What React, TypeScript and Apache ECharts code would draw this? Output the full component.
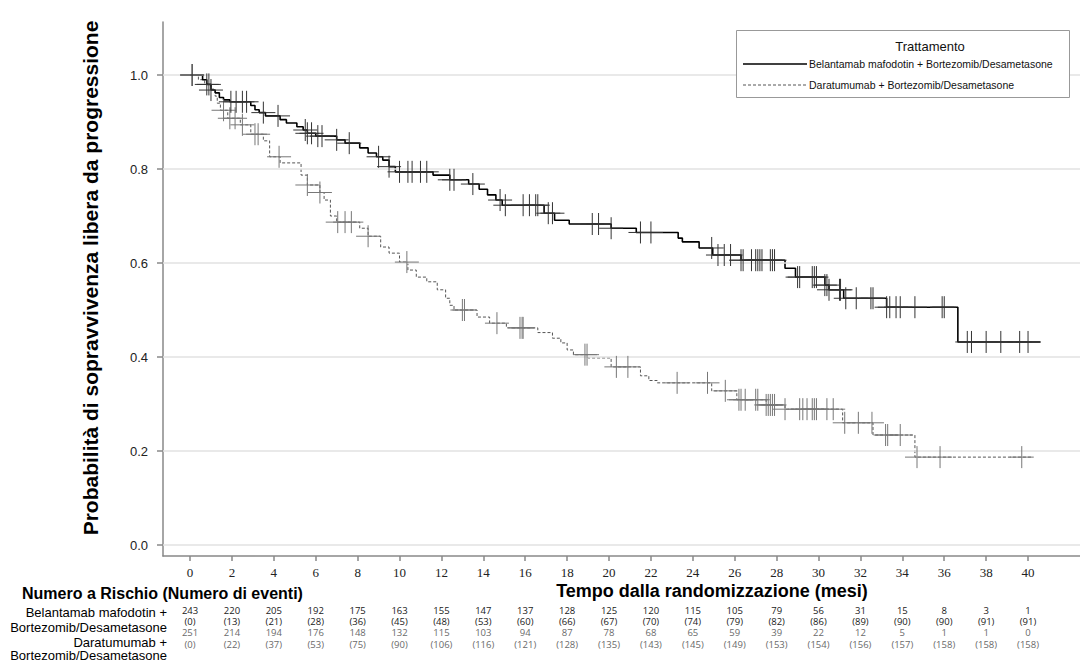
import React, { useEffect, useRef } from 'react';
import * as echarts from 'echarts';

// ---- Kaplan-Meier step data (months, survival probability) ----
const belaTimes = [0, 0.6, 0.8, 1.0, 1.2, 1.4, 1.6, 1.9, 2.9, 3.1, 3.3, 3.6, 4.3, 4.6, 5.1, 5.4, 5.6, 6.0, 7.0, 7.4, 8.1, 8.5, 8.9, 9.2, 9.5, 9.8, 11.6, 12.4, 13.3, 13.8, 14.2, 14.6, 14.9, 16.9, 17.4, 18.1, 20.1, 21.3, 23.3, 23.5, 24.3, 24.95, 26.3, 28.4, 28.9, 30.3, 30.5, 31.2, 33.25, 36.65, 40.6];
const belaSurv = [1.0, 0.99, 0.98, 0.968, 0.962, 0.952, 0.947, 0.943, 0.935, 0.926, 0.92, 0.913, 0.905, 0.898, 0.89, 0.883, 0.876, 0.87, 0.862, 0.855, 0.845, 0.834, 0.826, 0.819, 0.805, 0.794, 0.787, 0.777, 0.768, 0.757, 0.745, 0.734, 0.723, 0.706, 0.691, 0.683, 0.674, 0.665, 0.653, 0.645, 0.632, 0.617, 0.606, 0.589, 0.57, 0.553, 0.543, 0.525, 0.506, 0.432, 0.432];

const daraTimes = [0, 0.4, 0.7, 1.0, 1.2, 1.3, 1.45, 1.8, 2.4, 2.9, 3.5, 3.8, 4.3, 5.3, 5.6, 6.2, 6.4, 6.7, 7.0, 8.1, 8.5, 9.1, 9.5, 10.0, 10.4, 10.8, 11.3, 11.8, 12.2, 12.4, 12.6, 13.7, 14.3, 15.1, 16.6, 17.3, 17.7, 18.0, 18.3, 19.0, 20.1, 21.5, 21.9, 22.3, 24.9, 26.1, 27.5, 28.4, 31.15, 32.6, 34.6, 40.2];
const daraSurv = [1.0, 0.99, 0.98, 0.97, 0.955, 0.94, 0.925, 0.908, 0.894, 0.874, 0.86, 0.826, 0.813, 0.787, 0.766, 0.75, 0.734, 0.70, 0.687, 0.674, 0.657, 0.634, 0.621, 0.602, 0.585, 0.57, 0.56, 0.543, 0.525, 0.51, 0.50, 0.485, 0.472, 0.462, 0.452, 0.44, 0.43, 0.415, 0.405, 0.398, 0.379, 0.36, 0.35, 0.345, 0.328, 0.309, 0.298, 0.289, 0.26, 0.234, 0.187, 0.187];

// ---- censoring times (months) ----
const belaCensor = [0.1, 0.8, 0.9, 1.0, 1.95, 2.2, 2.5, 2.7, 3.5, 4.2, 5.5, 5.6, 5.8, 6.1, 6.3, 7.0, 7.6, 9.0, 9.5, 10.0, 10.4, 10.6, 11.0, 11.3, 12.4, 12.6, 13.5, 14.8, 15.05, 15.9, 16.2, 16.5, 16.6, 17.1, 17.3, 19.2, 19.5, 20.1, 21.5, 22.0, 24.9, 25.2, 25.5, 25.8, 26.3, 26.4, 26.8, 27.0, 27.1, 27.2, 27.3, 27.7, 27.8, 27.9, 29.0, 29.1, 29.7, 29.8, 29.9, 30.3, 30.4, 30.5, 31.0, 31.05, 31.3, 31.8, 32.5, 32.6, 33.25, 33.4, 33.7, 33.9, 34.6, 35.9, 36.0, 37.1, 37.3, 38.0, 38.7, 39.6, 40.0];
const daraCensor = [0.1, 1.6, 1.9, 2.15, 2.5, 3.1, 3.25, 4.25, 5.6, 6.2, 7.05, 7.4, 7.7, 8.5, 10.35, 13.0, 13.1, 14.65, 15.75, 15.85, 15.9, 18.85, 18.95, 20.35, 20.9, 23.25, 24.7, 25.55, 26.2, 26.3, 26.5, 27.0, 27.1, 27.5, 27.6, 27.7, 27.8, 27.9, 28.4, 29.1, 29.25, 29.45, 29.7, 29.8, 29.9, 30.4, 30.7, 31.25, 31.9, 32.55, 33.2, 33.3, 33.9, 34.7, 35.8, 39.7];

// ---- axis ticks ----
const xTicks = [0, 2, 4, 6, 8, 10, 12, 14, 16, 18, 20, 22, 24, 26, 28, 30, 32, 34, 36, 38, 40];
const yTicks = [0, 0.2, 0.4, 0.6, 0.8, 1.0];

// ---- number at risk table ----
const riskTimes = [0, 2, 4, 6, 8, 10, 12, 14, 16, 18, 20, 22, 24, 26, 28, 30, 32, 34, 36, 38, 40];
const belaAtRisk = [243, 220, 205, 192, 175, 163, 155, 147, 137, 128, 125, 120, 115, 105, 79, 56, 31, 15, 8, 3, 1];
const belaEvents = [0, 13, 21, 28, 36, 45, 48, 53, 60, 66, 67, 70, 74, 79, 82, 86, 89, 90, 90, 91, 91];
const daraAtRisk = [251, 214, 194, 176, 148, 132, 115, 103, 94, 87, 78, 68, 65, 59, 39, 22, 12, 5, 1, 1, 0];
const daraEvents = [0, 22, 37, 53, 75, 90, 106, 116, 121, 128, 135, 143, 145, 149, 153, 154, 156, 157, 158, 158, 158];

const seriesNames = ['Belantamab mafodotin + Bortezomib/Desametasone', 'Daratumumab + Bortezomib/Desametasone'];

const SANS = '"Liberation Sans", Arial, sans-serif';
const SERIF = '"Liberation Serif", "Times New Roman", serif';
const TABLE = '"Open Sans", "Liberation Sans", sans-serif';

const X_MIN = -1.29;
const X_MAX = 42.48;
const Y_MIN = -0.0234;
const Y_MAX = 1.1128;

function survAt(times: number[], surv: number[], t: number) {
  let s = surv[0];
  for (let i = 0; i < times.length; i++) {
    if (times[i] <= t) s = surv[i];
  }
  return s;
}

function censorRender(color: string) {
  return (params: any, api: any) => {
    const p = api.coord([api.value(0), api.value(1)]);
    return {
      type: 'group',
      children: [
        { type: 'line', shape: { x1: p[0] - 12, y1: p[1], x2: p[0] + 12, y2: p[1] }, style: { stroke: color, lineWidth: 1 } },
        { type: 'line', shape: { x1: p[0], y1: p[1] - 11, x2: p[0], y2: p[1] + 11 }, style: { stroke: color, lineWidth: 1 } },
      ],
    };
  };
}

export default function App() {
  const ref = useRef<HTMLDivElement>(null);

  useEffect(() => {
    if (!ref.current) return;
    const chart = echarts.init(ref.current, null, { renderer: 'svg' });

    const belaLine = belaTimes.map((t, i) => [t, belaSurv[i]]);
    const daraLine = daraTimes.map((t, i) => [t, daraSurv[i]]);
    const belaCens = belaCensor.map((t) => [t, survAt(belaTimes, belaSurv, t)]);
    const daraCens = daraCensor.map((t) => [t, survAt(daraTimes, daraSurv, t)]);

    const riskRows = [
      belaAtRisk.map((v) => String(v)),
      belaEvents.map((v) => '(' + v + ')'),
      daraAtRisk.map((v) => String(v)),
      daraEvents.map((v) => '(' + v + ')'),
    ];
    const riskColors = ['#1a1a1a', '#1a1a1a', '#6a6a6a', '#6a6a6a'];
    const riskData: number[][] = [];
    const riskText: string[] = [];
    const riskColor: string[] = [];
    riskRows.forEach((row, r) => {
      row.forEach((txt, i) => {
        riskData.push([riskTimes[i], r]);
        riskText.push(txt);
        riskColor.push(riskColors[r]);
      });
    });

    const option: any = {
      animation: false,
      backgroundColor: '#fff',
      grid: [
        { left: 163, right: 0, top: 22, bottom: 106, containLabel: false },
        { left: 163, right: 0, top: 604.5, height: 45.2, containLabel: false },
      ],
      xAxis: [
        {
          type: 'value',
          gridIndex: 0,
          min: X_MIN,
          max: X_MAX,
          axisLine: { show: true, onZero: false, lineStyle: { color: '#888', width: 1.5 } },
          axisTick: { show: true, length: 5, customValues: xTicks, lineStyle: { color: '#888', width: 1.5 } },
          axisLabel: {
            show: true,
            customValues: xTicks,
            margin: 10,
            fontFamily: SERIF,
            fontSize: 13,
            color: '#222',
          },
          splitLine: { show: false },
        },
        { type: 'value', gridIndex: 1, min: X_MIN, max: X_MAX, show: false },
      ],
      yAxis: [
        {
          type: 'value',
          gridIndex: 0,
          min: Y_MIN,
          max: Y_MAX,
          axisLine: { show: true, onZero: false, lineStyle: { color: '#888', width: 1.5 } },
          axisTick: { show: true, length: 6, customValues: yTicks, lineStyle: { color: '#888', width: 1.5 } },
          axisLabel: {
            show: true,
            customValues: yTicks,
            margin: 15,
            fontFamily: SANS,
            fontSize: 13,
            color: '#222',
            formatter: (v: number) => v.toFixed(1),
          },
          splitLine: { show: false },
        },
        { type: 'category', gridIndex: 1, data: ['r0', 'r1', 'r2', 'r3'], inverse: true, show: false },
      ],
      series: [
        {
          type: 'line',
          name: 'grid',
          data: [],
          silent: true,
          z: 1,
          markLine: {
            silent: true,
            symbol: 'none',
            label: { show: false },
            lineStyle: { color: '#e2e2e2', width: 1.5, type: 'solid' },
            data: yTicks.map((v) => ({ yAxis: v })),
          },
        },
        {
          type: 'line',
          name: seriesNames[1],
          data: daraLine,
          step: 'end',
          showSymbol: false,
          z: 3,
          lineStyle: { color: '#555', width: 1, type: [3, 2] },
        },
        {
          type: 'line',
          name: seriesNames[0],
          data: belaLine,
          step: 'end',
          showSymbol: false,
          z: 4,
          lineStyle: { color: '#000', width: 1.6 },
        },
        {
          type: 'custom',
          name: seriesNames[1] + ' censor',
          data: daraCens,
          z: 5,
          encode: { x: 0, y: 1 },
          renderItem: censorRender('#777'),
        },
        {
          type: 'custom',
          name: seriesNames[0] + ' censor',
          data: belaCens,
          z: 6,
          encode: { x: 0, y: 1 },
          renderItem: censorRender('#333'),
        },
        {
          type: 'custom',
          name: 'risk',
          xAxisIndex: 1,
          yAxisIndex: 1,
          data: riskData,
          clip: false,
          encode: { x: 0, y: 1 },
          renderItem: (params: any, api: any) => {
            const p = api.coord([api.value(0), api.value(1)]);
            const i = params.dataIndex;
            return {
              type: 'text',
              x: p[0],
              y: p[1],
              style: {
                text: riskText[i],
                fill: riskColor[i],
                font: '9.5px ' + TABLE,
                align: 'center',
                verticalAlign: 'middle',
              },
            };
          },
        },
      ],
      graphic: [
        {
          type: 'text',
          x: 90,
          y: 278,
          rotation: Math.PI / 2,
          style: {
            text: 'Probabilità di sopravvivenza libera da progressione',
            font: 'bold 21px ' + SANS,
            fill: '#000',
            align: 'center',
            verticalAlign: 'middle',
          },
        },
        {
          type: 'text',
          x: 712,
          y: 591,
          style: {
            text: 'Tempo dalla randomizzazione (mesi)',
            font: 'bold 18px ' + SANS,
            fill: '#000',
            align: 'center',
            verticalAlign: 'middle',
          },
        },
        {
          type: 'text',
          x: 22,
          y: 593,
          style: {
            text: 'Numero a Rischio (Numero di eventi)',
            font: 'bold 16px ' + SANS,
            fill: '#000',
            align: 'left',
            verticalAlign: 'middle',
          },
        },
        { type: 'text', x: 167, y: 612, style: { text: 'Belantamab mafodotin +', font: '13px ' + SANS, fill: '#000', align: 'right', verticalAlign: 'middle' } },
        { type: 'text', x: 167, y: 627, style: { text: 'Bortezomib/Desametasone', font: '13px ' + SANS, fill: '#000', align: 'right', verticalAlign: 'middle' } },
        { type: 'text', x: 167, y: 642, style: { text: 'Daratumumab +', font: '13px ' + SANS, fill: '#000', align: 'right', verticalAlign: 'middle' } },
        { type: 'text', x: 167, y: 655, style: { text: 'Bortezomib/Desametasone', font: '13px ' + SANS, fill: '#000', align: 'right', verticalAlign: 'middle' } },
        // legend box
        {
          type: 'rect',
          z: 50,
          shape: { x: 736.5, y: 30.5, width: 333, height: 67 },
          style: { fill: '#fff', stroke: '#999', lineWidth: 1 },
        },
        { type: 'text', z: 51, x: 930, y: 46, style: { text: 'Trattamento', font: '13px ' + SANS, fill: '#111', align: 'center', verticalAlign: 'middle' } },
        { type: 'line', z: 51, shape: { x1: 743, y1: 64, x2: 807, y2: 64 }, style: { stroke: '#000', lineWidth: 1.6 } },
        { type: 'text', z: 51, x: 809, y: 64, style: { text: seriesNames[0], font: '10.5px ' + SANS, fill: '#111', align: 'left', verticalAlign: 'middle' } },
        { type: 'line', z: 51, shape: { x1: 743, y1: 85, x2: 807, y2: 85 }, style: { stroke: '#555', lineWidth: 1, lineDash: [3, 2] } },
        { type: 'text', z: 51, x: 809, y: 85, style: { text: seriesNames[1], font: '10.5px ' + SANS, fill: '#111', align: 'left', verticalAlign: 'middle' } },
      ],
    };

    chart.setOption(option);
    return () => {
      chart.dispose();
    };
  }, []);

  return (
    <div
      ref={ref}
      style={{ position: 'absolute', left: 0, top: 0, width: 1080, height: 662, background: '#fff' }}
    />
  );
}
